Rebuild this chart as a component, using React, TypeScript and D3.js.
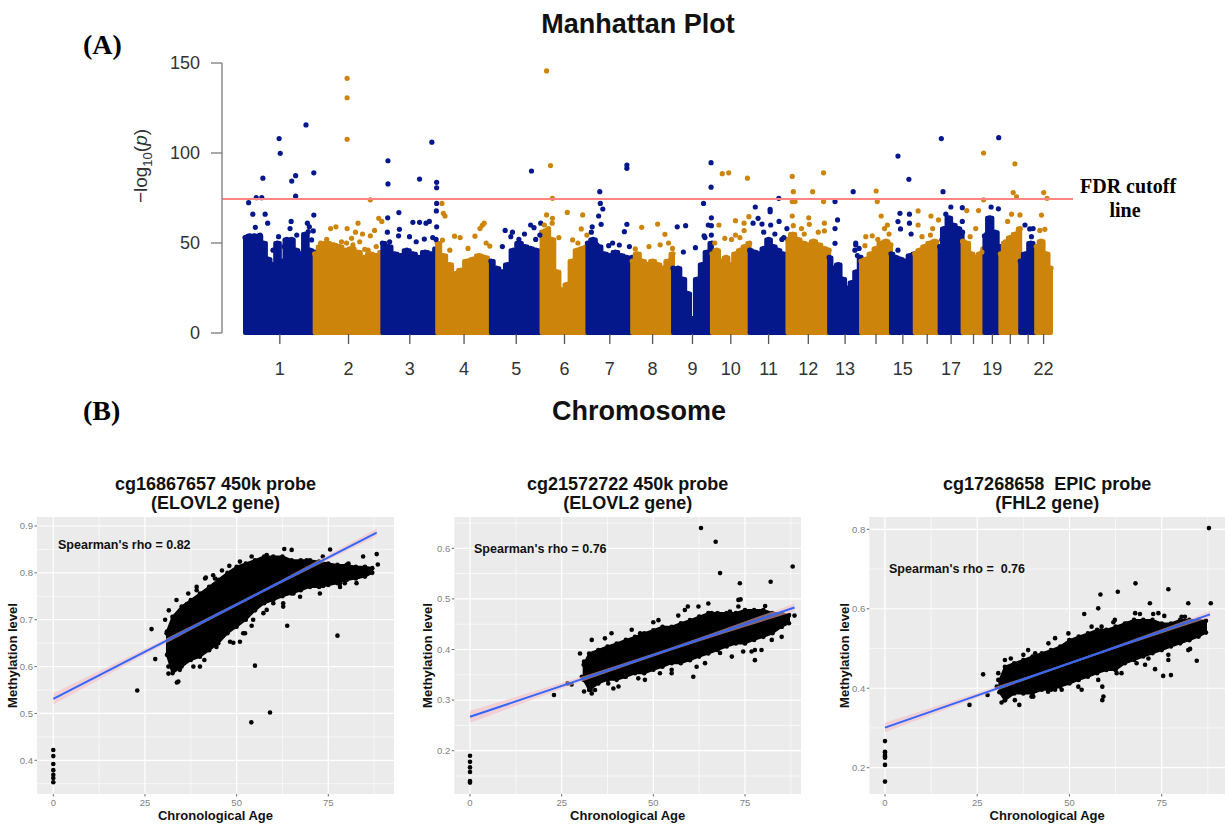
import * as d3 from "d3";

const SANS = "'Liberation Sans', Arial, sans-serif";
const SERIF = "'Liberation Serif', 'Times New Roman', serif";
const BLUE = "#05188B";
const GOLD = "#CC850A";

// ---------- Manhattan plot data ----------
const chrNames = ["1","2","3","4","5","6","7","8","9","10","11","12","13","14","15","16","17","18","19","20","21","22"];
const chrSpanMb = [249,242,196,192,181,164,160,146,139,135,135,149,114,107,85,89,82,78,57,71,57,53];
const chrTickLabels = ["1","2","3","4","5","6","7","8","9","10","11","12","13","","15","","17","","19","","","22"];
// dense top of the -log10(p) cloud per chromosome, read at evenly spaced positions
const chrProfiles = [
  [53,54,54,54,50,41,38,50,40,52,52,46,44,55,46,45],
  [44,48,50,49,48,46,47,45,42,44,43,45],
  [50,48,44,43,46,44,42,45,44,47],
  [50,43,38,33,35,40,41,43,42,39],
  [40,36,34,38,46,50,48,47,46,45],
  [56,57,52,34,24,27,40,46,47,48],
  [50,52,48,44,43,45,43,42,42],
  [40,44,40,38,40,38,36,40,44],
  [36,36,30,22,8,30,38,45,50],
  [44,46,40,42,38,44,46,48,50],
  [46,45,44,47,52,48,46,44,42],
  [52,55,52,50,49,51,49,47,46],
  [42,36,38,30,25,28,34,42],
  [40,41,44,47,50,51,49],
  [44,42,41,40,43,44],
  [44,46,48,50,51,48],
  [48,58,64,60,58,56],
  [51,50,44,42,44,47],
  [54,64,56,48],
  [44,50,53,55,58],
  [40,44,50,46],
  [48,51,44,36],
];
// [chromosome, position (Mb), -log10(p)]
const manhattanHits: [number, number, number][] = [
  [1,13,72.4],[1,28,66],[1,37,58.7],[1,40,75.2],[1,60,75.2],[1,64,86],[1,72,66],[1,81,61],[1,122,108],[1,126,99.8],
  [1,161,58],[1,167,84.4],[1,181,87.4],[1,181,76],[1,165,62],[1,218,115.6],[1,223,61],[1,230,59],[1,246,89],[1,246,65.5],[1,244,56.7],
  [1,19,52.6],[1,43,53.5],[1,54,54.4],[1,120,53.5],[1,114,49.8],[1,185,54.4],[1,226,56.3],[1,238,51.7],[1,100,46],[1,140,48],
  [2,21,50],[2,43,52],[2,57,58],[2,76,59],[2,116,141.5],[2,116,130.7],[2,116,107.6],[2,116,58],[2,114,50],[2,137,49],
  [2,146,56],[2,155,61],[2,171,55],[2,179,46.5],[2,199,74],[2,199,54],[2,214,57],[2,229,63.7],[2,240,62],
  [2,31,48],[2,66,48.9],[2,96,50.7],[2,132,52.6],[2,161,50.7],[2,191,46],[2,220,48],
  [3,20,95.7],[3,20,82.8],[3,19,64],[3,18,56],[3,59,66.9],[3,61,57.6],[3,58,54],[3,109,61.5],[3,133,61.5],[3,133,85.5],
  [3,156,61],[3,168,62],[3,177,106],[3,194,83.7],[3,194,80.7],[3,194,72],[3,193,67.8],[3,194,59],[3,192,52],
  [3,26,50.7],[3,97,53.5],[3,121,50.7],[3,150,52.2],[3,180,53],
  [4,17,72],[4,22,66.5],[4,28,65],[4,19,51.6],[4,62,53.8],[4,82,53],[4,135,53.8],[4,153,58],[4,161,59.8],[4,168,61],[4,188,48.3],
  [4,45,46],[4,110,47],[4,175,50],
  [5,51,57],[5,77,56],[5,71,53.5],[5,142,60],[5,145,90],[5,154,58.5],[5,175,54.4],[5,41,48],[5,178,61],[5,100,52],[5,120,55],[5,160,52],
  [6,18,145.6],[6,32,93],[6,39,74.8],[6,18,65.6],[6,39,63.7],[6,38,61],[6,62,53],[6,92,67],[6,147,65.6],[6,142,57.8],[6,111,51.7],[6,162,54.4],
  [6,10,60],[6,25,58],[6,130,50],
  [7,44,78.5],[7,46,72],[7,55,68.9],[7,40,65],[7,49,60.4],[7,17,59],[7,14,56],[7,141,93.3],[7,141,91.5],[7,141,60.4],[7,132,56.3],[7,76,48.5],[7,114,48.9],
  [7,34,49],[7,90,50],[7,150,48],
  [8,34,58.7],[8,11,46.7],[8,91,60.5],[8,117,54.8],[8,100,49],[8,144,47],[8,60,48],[8,130,50],
  [9,15,59],[9,45,59.6],[9,37,45],[9,80,47.4],[9,109,72],[9,126,60],[9,111,54],[9,136,94.6],[9,136,81],[9,137,64],[9,137,59.6],[9,137,54.4],[9,114,53],
  [10,37,88.5],[10,60,89],[10,127,86],[10,25,60],[10,84,62.4],[10,115,61],[10,132,64.6],[10,46,52.6],[10,115,56.9],[10,84,54.4],
  [10,10,50],[10,70,52],[10,100,53],
  [11,20,70],[11,12,61],[11,44,60.5],[11,73,68.7],[11,73,67.4],[11,104,74.8],[11,105,62],[11,75,60],[11,133,58],[11,122,53],[11,30,63.7],
  [11,50,56],[11,90,55],[11,115,52],
  [12,17,87],[12,21,78.5],[12,27,73],[12,17,73],[12,17,65],[12,21,59.6],[12,90,78.5],[12,76,64],[12,78,60.4],[12,129,89],[12,129,73],[12,132,61],[12,132,56.7],
  [12,50,58],[12,110,56],[12,60,55],
  [13,21,73],[13,30,62.8],[13,21,58],[13,21,49.8],[13,86,78.5],[13,95,50],[13,101,43],[13,95,49],[13,92,46],[13,107,47],
  [14,54,78.9],[14,58,73],[14,72,65],[14,84,58],[14,94,60],[14,17,53.5],[14,14,48.5],[14,60,52],[14,40,54],[14,100,55],
  [15,25,98.3],[15,64,85.4],[15,32,66.5],[15,25,61.9],[15,34,57.8],[15,66,66],[15,66,61],[15,72,55],[15,25,46],
  [16,12,67.8],[16,12,60],[16,58,65],[16,64,58],[16,26,53.5],[16,56,54.4],[16,85,62.8],
  [17,6,108],[17,12,78.5],[17,40,70],[17,22,66],[17,81,69.6],[17,81,62],[17,8,51.7],
  [18,57,68],[18,47,58],[18,15,68],[18,27,53.5],[18,69,45],[18,75,100],[18,75,74],
  [19,51,108.5],[19,24,70],[19,50,69],[19,8,55],
  [20,52,94],[20,46,78],[20,58,75.7],[20,40,66],[20,70,65.6],[20,26,62],[20,17,50.7],
  [21,17,60],[21,34,57.8],[21,46,58],[21,40,53.5],
  [22,27,78],[22,39,74.8],[22,13,57],[22,31,57.6],[22,19,65.5],
];
const manhattanYTicks = [0, 50, 100, 150];
const fdrCutoff = 74.5;

// ---------- scatter panels data ----------
const ageTicks = [0, 25, 50, 75];
const coreAges = [31,32.5,35,37.5,40,42.5,45,47.5,50,52.5,55,57.5,60,62.5,65,67.5,70,72.5,75,77.5,80,82.5,85,87];

const p1Newborn = [0.422, 0.409, 0.392, 0.379, 0.369, 0.362, 0.353];
const p1Points: [number, number][] = [
  [22.9,0.549],[26.8,0.68],[27.8,0.616],[54,0.481],[59.1,0.502],[55,0.602],[63.8,0.687],[77.5,0.666],[88.2,0.84],[88.5,0.818],[33.7,0.566],[31.4,0.6],
  [33.6,0.742],[35,0.721],[30.9,0.671],[31.4,0.635],[32.7,0.614],[34.5,0.593],[36.4,0.621],[40,0.6],[41.2,0.614],[36.8,0.756],[39.1,0.763],
  [44.1,0.788],[48.2,0.788],[49.1,0.651],[50.9,0.653],[52.3,0.671],[54.1,0.687],[44.5,0.642],[43.6,0.685],[50.9,0.824],[54.1,0.835],
  [58.2,0.838],[63,0.851],[65,0.849],[69.1,0.827],[75.5,0.85],[73.5,0.835],[80.5,0.82],[84.5,0.835],[85.5,0.806],[83.2,0.792],
  [78.2,0.778],[79.5,0.778],[73.6,0.772],[65.5,0.756],[62.7,0.728],[60,0.735],[57.3,0.714],[54.5,0.721],[56.4,0.756],[41.4,0.788],[36.4,0.733],
  [32.7,0.6],[31.4,0.585],[34.1,0.568],[38.2,0.6],[43.6,0.657],[48.2,0.653],[51.8,0.671],[54.5,0.7],[58.2,0.721],[62.7,0.735],
  [67.3,0.749],[72.7,0.756],[78.2,0.77],[82.7,0.778],[39.1,0.77],[41.6,0.79],[43.6,0.795],[46,0.805],[48,0.815],[30.5,0.7],[31.5,0.72],
];
const p1CoreHigh = [0.675,0.706,0.728,0.742,0.756,0.77,0.785,0.8,0.813,0.82,0.827,0.835,0.835,0.835,0.827,0.827,0.827,0.824,0.82,0.817,0.817,0.813,0.813,0.81];
const p1CoreLow = [0.625,0.586,0.6,0.614,0.621,0.635,0.65,0.671,0.685,0.7,0.72,0.735,0.742,0.75,0.756,0.763,0.77,0.77,0.774,0.778,0.785,0.788,0.792,0.8];
const p1Fit: [number, number][] = [[0, 0.531], [88.2, 0.886]];

const p2Newborn = [0.19, 0.178, 0.167, 0.158, 0.14, 0.137];
const p2Points: [number, number][] = [
  [63,0.64],[67,0.613],[68.2,0.551],[73.6,0.531],[82,0.534],[88,0.564],[88.5,0.467],[73.8,0.499],[22.9,0.31],[26.6,0.333],[27.7,0.331],
  [60.9,0.346],[31.1,0.317],[32.9,0.32],[39.1,0.323],
  [31.1,0.376],[34.5,0.389],[36.8,0.422],[42.3,0.414],[46.4,0.432],[50,0.454],[56.8,0.467],[59.4,0.485],[65,0.491],[65.9,0.472],
  [70.9,0.475],[73.2,0.498],[77.7,0.468],[80.5,0.486],[84.1,0.458],[82.3,0.419],[79.5,0.399],[77.7,0.379],[74.5,0.396],[68.2,0.393],
  [61.8,0.366],[55,0.36],[51.8,0.353],[45.9,0.343],[42.3,0.346],[37.7,0.333],[34.1,0.32],[76.8,0.396],[85,0.445],[86.8,0.465],
  [33.2,0.419],[38.6,0.432],[44.1,0.439],[51.4,0.458],[58.6,0.478],[62.3,0.485],[73.2,0.485],[33.2,0.313],[40.5,0.327],[47.7,0.34],
  [55,0.353],[64.1,0.373],[71.4,0.386],[77.7,0.399],[85,0.425],[30,0.392],[30.5,0.346],
];
const p2CoreHigh = [0.37,0.392,0.399,0.406,0.412,0.419,0.425,0.432,0.438,0.445,0.445,0.452,0.458,0.465,0.472,0.472,0.472,0.472,0.478,0.478,0.478,0.472,0.472,0.468];
const p2CoreLow = [0.34,0.32,0.333,0.34,0.34,0.346,0.353,0.353,0.36,0.366,0.373,0.373,0.379,0.386,0.392,0.399,0.406,0.412,0.412,0.419,0.425,0.432,0.445,0.452];
const p2Fit: [number, number][] = [[0, 0.267], [88.5, 0.483]];

const p3Newborn = [0.267, 0.24, 0.238, 0.232, 0.228, 0.225, 0.207, 0.165];
const p3Points: [number, number][] = [
  [87.8,0.803],[88.3,0.614],[85.1,0.558],[84.5,0.469],[82.7,0.499],[76.8,0.649],[67.9,0.664],[63.1,0.643],[58.4,0.636],[57.8,0.601],
  [54,0.587],[26.6,0.435],[22.9,0.358],[27.8,0.383],[36.4,0.358],[31.6,0.364],[58.9,0.37],[75.4,0.431],[77.5,0.433],[73.2,0.448],[82.2,0.614],
  [34.1,0.475],[37.5,0.484],[40.7,0.488],[46.1,0.526],[50,0.521],[58.7,0.555],[61.9,0.566],[65.5,0.563],[69.1,0.587],[71.8,0.614],
  [72.7,0.587],[75.7,0.582],[77.2,0.555],[81.3,0.58],[84,0.559],[80.4,0.534],[76.8,0.484],[71.4,0.475],[68.2,0.463],[62.8,0.438],
  [58.9,0.404],[59.2,0.379],[53.3,0.396],[47.9,0.396],[44.2,0.391],[40.2,0.379],[35.2,0.37],[31.6,0.396],[30.7,0.421],
  [32.5,0.471],[38.8,0.496],[44.3,0.513],[49.7,0.538],[56,0.555],[62.3,0.572],[67.8,0.589],[74.1,0.589],[80.4,0.58],
  [32.5,0.37],[39.7,0.379],[46.1,0.396],[52.4,0.404],[57.8,0.421],[64.1,0.438],[70.5,0.459],[76.8,0.471],[82.2,0.496],[30.3,0.404],[30.7,0.438],
];
const p3CoreHigh = [0.42,0.454,0.463,0.471,0.48,0.488,0.496,0.505,0.521,0.53,0.538,0.547,0.547,0.555,0.563,0.572,0.572,0.572,0.563,0.563,0.572,0.572,0.572,0.57];
const p3CoreLow = [0.39,0.37,0.387,0.387,0.387,0.396,0.396,0.404,0.412,0.421,0.429,0.438,0.446,0.446,0.463,0.471,0.48,0.488,0.496,0.505,0.513,0.521,0.53,0.54];
const p3Fit: [number, number][] = [[0, 0.301], [88.1, 0.586]];

const panels = [
  {
    title: ["cg16867657 450k probe", "(ELOVL2 gene)"], rho: "Spearman's rho = 0.82",
    newborn: p1Newborn, points: p1Points, low: p1CoreLow, high: p1CoreHigh, fit: p1Fit,
    yTicks: [0.4, 0.5, 0.6, 0.7, 0.8, 0.9],
    bg: [37, 394], xr: [53.3, 328.3], yd: [0.4, 0.9], yr: [760.3, 526], ylabX: 17, rhoPos: [58, 549],
  },
  {
    title: ["cg21572722 450k probe", "(ELOVL2 gene)"], rho: "Spearman's rho = 0.76",
    newborn: p2Newborn, points: p2Points, low: p2CoreLow, high: p2CoreHigh, fit: p2Fit,
    yTicks: [0.2, 0.3, 0.4, 0.5, 0.6],
    bg: [454.3, 801], xr: [470, 745], yd: [0.2, 0.6], yr: [750.7, 548.3], ylabX: 432, rhoPos: [474, 553],
  },
  {
    title: ["cg17268658  EPIC probe", "(FHL2 gene)"], rho: "Spearman's rho =  0.76",
    newborn: p3Newborn, points: p3Points, low: p3CoreLow, high: p3CoreHigh, fit: p3Fit,
    yTicks: [0.2, 0.4, 0.6, 0.8],
    bg: [869.3, 1225], xr: [885, 1161.7], yd: [0.2, 0.8], yr: [767.7, 529.3], ylabX: 849, rhoPos: [889, 573],
  },
];

function minorBreaks(ticks: number[], lo: number, hi: number) {
  const step = ticks[1] - ticks[0];
  const ext = [ticks[0] - step, ...ticks, ticks[ticks.length - 1] + step];
  const out: number[] = [];
  for (let i = 0; i < ext.length - 1; i++) {
    const m = (ext[i] + ext[i + 1]) / 2;
    if (m > lo && m < hi) out.push(m);
  }
  return out;
}

function Manhattan() {
  const ends = Array.from(d3.cumsum(chrSpanMb));
  const starts = ends.map((e, i) => e - chrSpanMb[i]);
  const total = ends[ends.length - 1];
  const x = d3.scaleLinear().domain([0, total]).range([245, 1051]);
  const y = d3.scaleLinear().domain([0, 150]).range([333, 63]);
  const colorOf = (i: number) => (i % 2 === 0 ? BLUE : GOLD);

  return (
    <g>
      <text x={638} y={33} textAnchor="middle" fontFamily={SANS} fontWeight="bold" fontSize={27} fill="#111">Manhattan Plot</text>
      <text x={83} y={54} fontFamily={SERIF} fontWeight="bold" fontSize={28} fill="#000">(A)</text>

      {chrProfiles.map((prof, i) => {
        const pos = (j: number) => starts[i] + (chrSpanMb[i] * j) / (prof.length - 1);
        const area = d3.area<number>()
          .x((_, j) => x(pos(j)))
          .y0(y(0))
          .y1(d => y(d))
          .curve(d3.curveStep);
        return (
          <g key={i}>
            <path d={area(prof) || ""} fill={colorOf(i)} stroke={colorOf(i)} strokeWidth={4} strokeLinejoin="round" />
            {prof.map((v, j) => (
              <circle key={j} cx={x(pos(j))} cy={y(v)} r={2.6} fill={colorOf(i)} />
            ))}
          </g>
        );
      })}

      {manhattanHits.map(([c, p, v], k) => (
        <circle key={k} cx={x(starts[c - 1] + Math.min(p, chrSpanMb[c - 1]))} cy={y(v)} r={2.6} fill={colorOf(c - 1)} />
      ))}

      <line x1={222} x2={1073} y1={y(fdrCutoff)} y2={y(fdrCutoff)} stroke="#FF8585" strokeWidth={2} />
      <text x={1080} y={193} fontFamily={SERIF} fontWeight="bold" fontSize={20} fill="#000">FDR cutoff</text>
      <text x={1125} y={217} textAnchor="middle" fontFamily={SERIF} fontWeight="bold" fontSize={20} fill="#000">line</text>

      {/* y axis */}
      <line x1={222} x2={222} y1={y(0)} y2={y(150)} stroke="#7a7a7a" strokeWidth={1.3} />
      {manhattanYTicks.map(t => (
        <g key={t}>
          <line x1={211} x2={222} y1={y(t)} y2={y(t)} stroke="#7a7a7a" strokeWidth={1.3} />
          <text x={200} y={y(t)} dy="0.36em" textAnchor="end" fontFamily={SANS} fontSize={18} fill="#333">{t}</text>
        </g>
      ))}
      <text transform="translate(147,166) rotate(-90)" textAnchor="middle" fontFamily={SANS} fontSize={19} fill="#333">
        −log<tspan fontSize={13} dy={5}>10</tspan><tspan dy={-5}>(</tspan><tspan fontStyle="italic">p</tspan>)
      </text>

      {/* x axis ticks */}
      {chrNames.map((c, i) => {
        const cx = x(starts[i] + chrSpanMb[i] / 2);
        return (
          <g key={c}>
            <line x1={cx} x2={cx} y1={334} y2={344} stroke="#555" strokeWidth={1.3} />
            {chrTickLabels[i] && (
              <text x={cx} y={375} textAnchor="middle" fontFamily={SANS} fontSize={18} fill="#333">{chrTickLabels[i]}</text>
            )}
          </g>
        );
      })}
      <text x={639} y={420} textAnchor="middle" fontFamily={SANS} fontWeight="bold" fontSize={27} fill="#111">Chromosome</text>
      <text x={83} y={420} fontFamily={SERIF} fontWeight="bold" fontSize={28} fill="#000">(B)</text>
    </g>
  );
}

function Scatter({ cfg }: { cfg: (typeof panels)[number] }) {
  const top = 517, bottom = 794;
  const x = d3.scaleLinear().domain([0, 75]).range(cfg.xr);
  const y = d3.scaleLinear().domain(cfg.yd).range(cfg.yr);
  const xLo = x.invert(cfg.bg[0]), xHi = x.invert(cfg.bg[1]);
  const yLo = y.invert(bottom), yHi = y.invert(top);
  const xMinor = minorBreaks(ageTicks, xLo, xHi);
  const yMinor = minorBreaks(cfg.yTicks, yLo, yHi);
  const cx = (cfg.bg[0] + cfg.bg[1]) / 2;

  const core = d3.area<number>()
    .x((_, i) => x(coreAges[i]))
    .y0((_, i) => y(cfg.low[i]))
    .y1(d => y(d));

  const [[a0, v0], [a1, v1]] = cfg.fit;
  const fitAt = (a: number) => v0 + ((v1 - v0) * (a - a0)) / (a1 - a0);
  const bandAges = [a0, (a0 + a1) * 0.62, a1];
  const bandHalf = [0.012, 0.003, 0.008];
  const band = d3.area<number>()
    .x(a => x(a))
    .y0((a, i) => y(fitAt(a) - bandHalf[i]))
    .y1((a, i) => y(fitAt(a) + bandHalf[i]))
    .curve(d3.curveMonotoneX);

  return (
    <g>
      <text x={cx} y={490} textAnchor="middle" fontFamily={SANS} fontWeight="bold" fontSize={18} fill="#111" style={{ whiteSpace: "pre" }}>{cfg.title[0]}</text>
      <text x={cx} y={509} textAnchor="middle" fontFamily={SANS} fontWeight="bold" fontSize={18} fill="#111">{cfg.title[1]}</text>

      <rect x={cfg.bg[0]} y={top} width={cfg.bg[1] - cfg.bg[0]} height={bottom - top} fill="#EBEBEB" />
      {xMinor.map(t => <line key={"xm" + t} x1={x(t)} x2={x(t)} y1={top} y2={bottom} stroke="#fff" strokeWidth={0.6} />)}
      {yMinor.map(t => <line key={"ym" + t} x1={cfg.bg[0]} x2={cfg.bg[1]} y1={y(t)} y2={y(t)} stroke="#fff" strokeWidth={0.6} />)}
      {ageTicks.map(t => <line key={"xM" + t} x1={x(t)} x2={x(t)} y1={top} y2={bottom} stroke="#fff" strokeWidth={1.2} />)}
      {cfg.yTicks.map(t => <line key={"yM" + t} x1={cfg.bg[0]} x2={cfg.bg[1]} y1={y(t)} y2={y(t)} stroke="#fff" strokeWidth={1.2} />)}

      <path d={core(cfg.high) || ""} fill="#000" stroke="#000" strokeWidth={2} strokeLinejoin="round" />
      {cfg.high.map((v, i) => <circle key={"h" + i} cx={x(coreAges[i])} cy={y(v)} r={2.3} fill="#000" />)}
      {cfg.low.map((v, i) => <circle key={"l" + i} cx={x(coreAges[i])} cy={y(v)} r={2.3} fill="#000" />)}
      {cfg.points.map(([a, v], i) => <circle key={i} cx={x(a)} cy={y(v)} r={2.3} fill="#000" />)}
      {cfg.newborn.map((v, i) => <circle key={"n" + i} cx={x(0)} cy={y(v)} r={2.3} fill="#000" />)}

      <path d={band(bandAges) || ""} fill="#F5B8C0" opacity={0.55} />
      <line x1={x(a0)} y1={y(v0)} x2={x(a1)} y2={y(v1)} stroke="#3366FF" strokeWidth={2} />

      <text x={cfg.rhoPos[0]} y={cfg.rhoPos[1]} fontFamily={SANS} fontWeight="bold" fontSize={12.5} fill="#111" style={{ whiteSpace: "pre" }}>{cfg.rho}</text>

      {ageTicks.map(t => (
        <g key={"xt" + t}>
          <line x1={x(t)} x2={x(t)} y1={bottom} y2={bottom + 2.5} stroke="#444" strokeWidth={0.8} />
          <text x={x(t)} y={806} textAnchor="middle" fontFamily={SANS} fontSize={9.5} fill="#7f7f7f">{t}</text>
        </g>
      ))}
      {cfg.yTicks.map(t => (
        <g key={"yt" + t}>
          <line x1={cfg.bg[0] - 2.5} x2={cfg.bg[0]} y1={y(t)} y2={y(t)} stroke="#444" strokeWidth={0.8} />
          <text x={cfg.bg[0] - 4} y={y(t)} dy="0.35em" textAnchor="end" fontFamily={SANS} fontSize={9.5} fill="#7f7f7f">{d3.format(".1f")(t)}</text>
        </g>
      ))}
      <text x={cx} y={820} textAnchor="middle" fontFamily={SANS} fontWeight="bold" fontSize={13} fill="#111">Chronological Age</text>
      <text transform={`translate(${cfg.ylabX},${(top + bottom) / 2}) rotate(-90)`} textAnchor="middle" fontFamily={SANS} fontWeight="bold" fontSize={13} fill="#111">Methylation level</text>
    </g>
  );
}

export default function App() {
  return (
    <div style={{ position: "absolute", left: 0, top: 0 }}>
      <svg width={1225} height={825} style={{ display: "block" }}>
        <rect width={1225} height={825} fill="#fff" />
        <Manhattan />
        {panels.map((p, i) => <Scatter key={i} cfg={p} />)}
      </svg>
    </div>
  );
}
